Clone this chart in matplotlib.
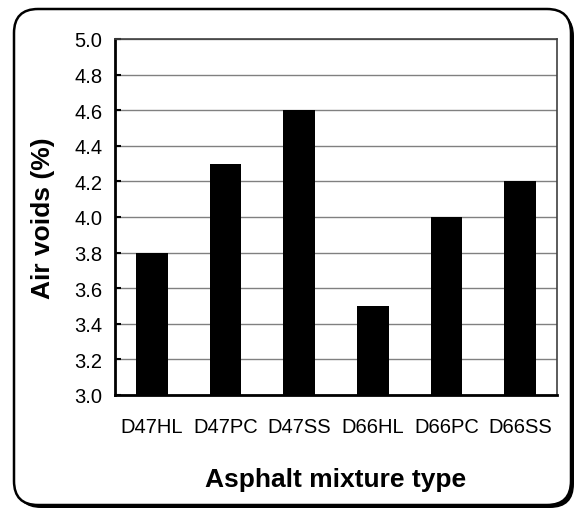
import matplotlib.pyplot as plt
from matplotlib.patches import FancyBboxPatch

mixtures = ['D47HL', 'D47PC', 'D47SS', 'D66HL', 'D66PC', 'D66SS']
air_voids = [3.8, 4.3, 4.6, 3.5, 4.0, 4.2]
yticks = [3.0, 3.2, 3.4, 3.6, 3.8, 4.0, 4.2, 4.4, 4.6, 4.8, 5.0]

plt.rcParams['font.family'] = ['Liberation Sans', 'DejaVu Sans']

W, H = 578, 510
fig = plt.figure(figsize=(W / 100, H / 100), dpi=100)

# rounded frame with shadow (pixels -> figure fraction)
def px(x0, y0, x1, y1):
    return x0 / W, 1 - y1 / H, (x1 - x0) / W, (y1 - y0) / H

r = 24
x, y, w, h = px(17, 13, 574, 509)
shadow = FancyBboxPatch((x, y), w, h, boxstyle='round,pad=0,rounding_size=%f' % (r / W),
                        transform=fig.transFigure, facecolor='black', edgecolor='black',
                        lw=0, zorder=0, mutation_aspect=W / H)
fig.patches.append(shadow)
x, y, w, h = px(14, 10, 571, 506)
frame = FancyBboxPatch((x, y), w, h, boxstyle='round,pad=0,rounding_size=%f' % (r / W),
                       transform=fig.transFigure, facecolor='white', edgecolor='black',
                       lw=1.8, zorder=1, mutation_aspect=W / H)
fig.patches.append(frame)

ax = fig.add_axes(px(115, 40, 557, 396))
ax.set_zorder(2)
ax.patch.set_alpha(0)

xs = range(len(mixtures))
ax.bar(xs, air_voids, width=0.43, color='black', zorder=3)
ax.set_xlim(-0.5, len(mixtures) - 0.5)
ax.set_ylim(3.0, 5.0)
ax.set_yticks(yticks)
ax.set_yticklabels(['%.1f' % v for v in yticks], fontsize=14.5)
ax.set_xticks(list(xs))
ax.set_xticklabels(mixtures, fontsize=14.5)
ax.tick_params(axis='x', length=0, pad=16)
ax.tick_params(axis='y', direction='in', length=4, width=1.5, pad=9)
ax.yaxis.grid(True, color='#808080', lw=1)
ax.set_axisbelow(True)
for s in ax.spines.values():
    s.set_color('#404040')
    s.set_linewidth(1.2)
ax.spines['left'].set_color('black')
ax.spines['left'].set_linewidth(2)
ax.spines['bottom'].set_color('black')
ax.spines['bottom'].set_linewidth(2)

ax.set_ylabel('Air voids (%)', fontsize=19, fontweight='bold', labelpad=14)
ax.set_xlabel('Asphalt mixture type', fontsize=19, fontweight='bold', labelpad=22)

fig.savefig('out.png', dpi=100)
